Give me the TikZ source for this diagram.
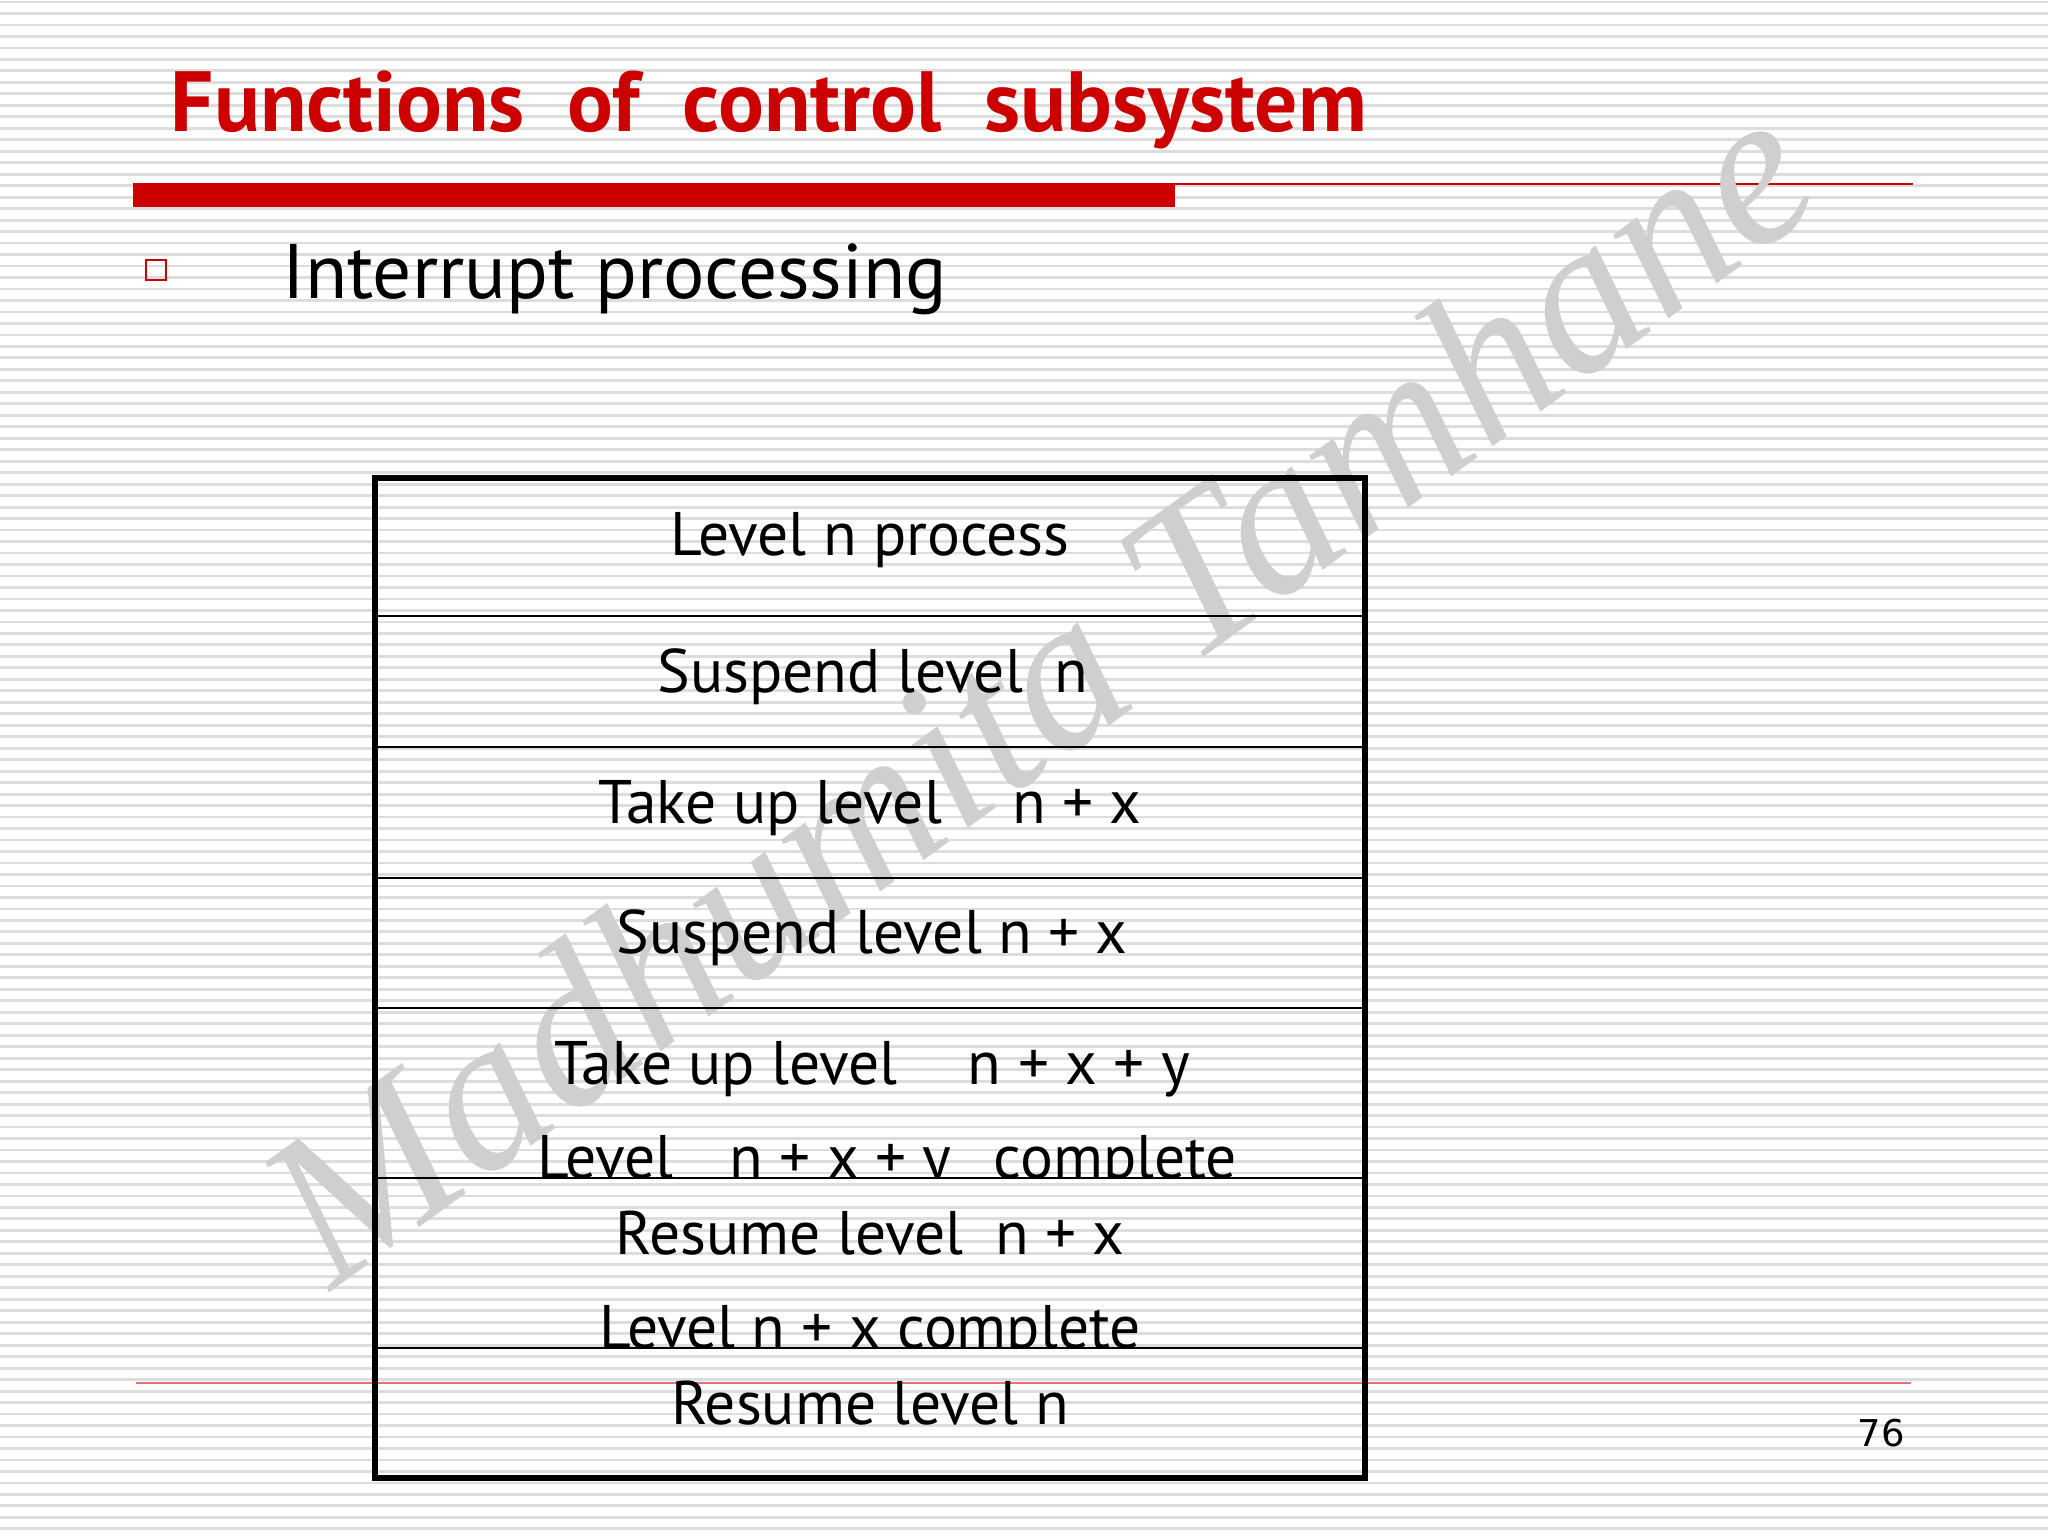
\documentclass[tikz,border=0pt]{standalone}
\usepackage{fontspec}
\setmainfont{PT Sans}
\newfontfamily\markfont{Liberation Serif}
\newfontfamily\pagefont{DejaVu Sans}
\definecolor{slidered}{RGB}{204,0,0}
\definecolor{stripe}{RGB}{221,221,221}
\definecolor{markgray}{RGB}{207,207,207}
\begin{document}
\begin{tikzpicture}[x=0.01cm,y=-0.01cm,
    rowtext/.style={anchor=base,font=\fontsize{17.5}{21}\selectfont},
    rowline/.style={line width=0.7pt}]
  \useasboundingbox (0,0) rectangle (2048,1536);
  \fill[white] (0,0) rectangle (2048,1536);
  \foreach \k in {0,...,133}
    \draw[stripe,line width=0.8pt] (0,2+11.48*\k) -- (2048,2+11.48*\k);

  \node[anchor=base west,inner sep=0pt,text=slidered,font=\bfseries\fontsize{24.3}{29}\selectfont] (title) at (170,131)
    {Functions\hspace{0.5em}of\hspace{0.5em}control\hspace{0.5em}subsystem};
  \fill[slidered] (133,183) rectangle (1175,207);
  \draw[slidered,line width=0.6pt] (1175,184) -- (1913,184);
  \draw[slidered!55,line width=0.4pt] (136,1383) -- (1911,1383);

  \node[draw=slidered,line width=0.5pt,inner sep=0pt,minimum size=0.2cm] (bullet) at (156,270) {};
  \node[anchor=base west,inner sep=0pt,font=\fontsize{22}{27}\selectfont] (topic) at (282,298) {Interrupt processing};

  \node[markgray,rotate=36,anchor=base,font=\markfont\itshape\fontsize{62}{64}\selectfont] (mark) at (1080,747)
    {Madhumita Tamhane};

  \draw[line width=1.6pt] (375,478) rectangle (1365,1478);
  \foreach \y in {616,747,878,1008,1178,1348}
    \draw[rowline] (375,\y) -- (1365,\y);

  \node[rowtext] (row1) at (870,555) {Level n process};
  \node[rowtext] (row2) at (873,692) {Suspend level\hspace{9pt}n};
  \node[rowtext] (row3) at (870,823) {Take up level\hspace{20pt}n + x};
  \node[rowtext] (row4) at (872,953) {Suspend level n + x};
  \node[rowtext] (row5) at (872,1084) {Take up level\hspace{20pt}n + x + y};
  \begin{scope}
    \clip (375,1008) rectangle (1365,1177);
    \node[rowtext] (row6) at (887,1178) {Level\hspace{16pt}n + x + y\hspace{12pt}complete};
  \end{scope}
  \node[rowtext] (row7) at (870,1254) {Resume level\hspace{9pt}n + x};
  \begin{scope}
    \clip (375,1178) rectangle (1365,1347);
    \node[rowtext] (row8) at (870,1348) {Level n + x complete};
  \end{scope}
  \node[rowtext] (row9) at (870,1424) {Resume level n};

  \node[font=\pagefont\fontsize{10.5}{12}\selectfont] (pagenum) at (1881,1433) {76};
\end{tikzpicture}
\end{document}
